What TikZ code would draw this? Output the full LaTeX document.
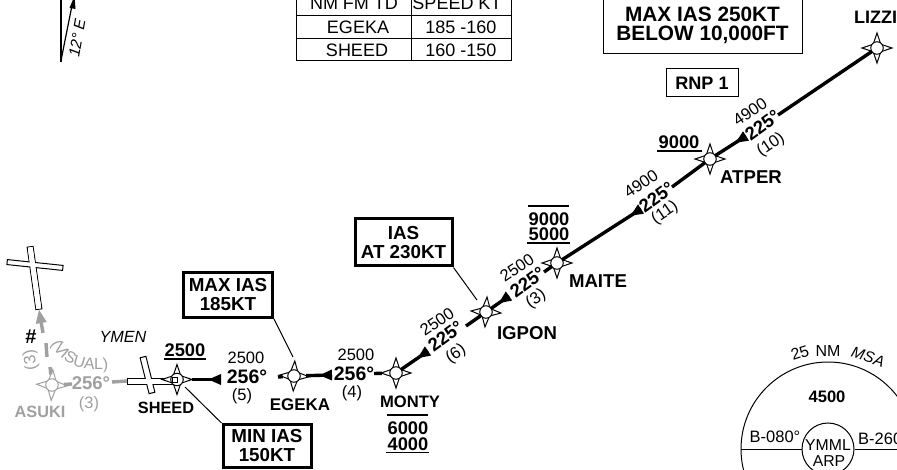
\documentclass[tikz,border=0pt]{standalone}
\usepackage{fontspec}
\setmainfont{Liberation Sans}
\usetikzlibrary{shapes.geometric,arrows.meta,calc,decorations.text,decorations.markings}
\newcommand{\fsz}[1]{\fontsize{#1}{#1}\selectfont}
\definecolor{gr}{HTML}{A0A0A0}
\tikzset{
  wstar/.style={star,star points=4,star point ratio=2.8,draw=#1,fill=white,line width=1pt,inner sep=0pt,outer sep=0pt,minimum size=30pt},
  wstar/.default=black,
  wcirc/.style={circle,draw=#1,fill=white,line width=1pt,inner sep=0pt,minimum size=12.5pt},
  wcirc/.default=black,
  leg/.style={line width=3.4pt,black},
  gleg/.style={line width=3.4pt,gr},
  legtip/.style={postaction={decorate,decoration={markings,mark=at position 13pt with {\arrow{Triangle[length=13pt,width=10pt]}}}}},
  wname/.style={font=\bfseries\fsz{#1},inner sep=0pt},
  alt/.style={font=\bfseries\fsz{18.3},inner sep=0pt},
  lev/.style={font=\fsz{16.5},inner sep=0pt},
  brg/.style={font=\bfseries\fsz{19.5},inner sep=0pt},
  brgr/.style={font=\bfseries\fsz{18.5},inner sep=0pt,rotate=36},
  spd/.style={font=\bfseries\fsz{18.8},align=center,draw,line width=3pt,inner sep=0pt},
  thin box/.style={font=\bfseries\fsz{#1},align=center,draw,line width=1pt,inner sep=0pt},
  cell/.style={font=\fsz{18},inner sep=0pt},
  leader/.style={line width=1pt,black},
  rwy/.style={rectangle,inner sep=0pt,outer sep=0pt,line width=1pt},
  bar/.style={line width=1.6pt,black},
  msa/.style={font=\fsz{16},inner sep=0pt},
}
\begin{document}
\begin{tikzpicture}[x=1pt,y=-1pt]
\useasboundingbox (0,0) rectangle (897,470);
\clip (0,0) rectangle (897,470);
\fill[white] (0,0) rectangle (897,470);

% north arrow
\draw[line width=1.8pt] (60.7,-2) -- (60.7,62);
\draw[line width=1.2pt] (60.7,62) -- (71.5,8);
\fill (74.5,-4) -- (75.5,9) -- (69.5,8) -- cycle;
\node[font=\itshape\fsz{15.5},rotate=80,inner sep=0pt] (magvar) at (77,38) {12° E};

% table
\draw[line width=1pt] (296,-2) -- (296,61) -- (511,61) -- (511,-2)
  (296,16) -- (511,16) (296,38.5) -- (511,38.5) (411,-2) -- (411,61);
\node[cell] (th1) at (354,3.5) {NM FM TD};
\node[cell] (th2) at (457,3.5) {SPEED KT};
\node[cell] (c1) at (358,27) {EGEKA};
\node[cell] (c2) at (461,27) {185 -160};
\node[cell] (c3) at (357,50) {SHEED};
\node[cell] (c4) at (461,50) {160 -150};

% boxes top right
\node[thin box=20.8,minimum width=199pt,minimum height=58pt] (maxbox) at (702.5,25) {MAX IAS 250KT\\[-1.8pt]BELOW 10,000FT};
\node[thin box=18.1,minimum width=72pt,minimum height=28pt] (rnp) at (702,83) {RNP 1};

% MSA
\node[circle,draw,line width=1pt,minimum size=174pt,inner sep=0pt] (msac) at (828,449) {};
\node[circle,draw,line width=1pt,minimum size=52pt,inner sep=0pt,font=\fsz{15.8},align=center,fill=white] (arp) at (828,449) {};
\node[inner sep=0pt,font=\fsz{15.8}] (ymml) at (828,445) {YMML};
\node[inner sep=0pt,font=\fsz{15.8}] (arpt) at (829,461) {ARP};
\draw[line width=1pt] (msac.180) -- (arp.180);
\draw[line width=1pt] (arp.0) -- (msac.0);
\node[msa,rotate=18] (m25) at (800,353) {25};
\node[msa] (mnm) at (828,351) {NM};
\node[msa,font=\itshape\fsz{15.5},rotate=-18] (mmsa) at (868,357) {MSA};
\node[font=\bfseries\fsz{16.6},inner sep=0pt] (m45) at (827,397) {4500};
\node[msa,font=\fsz{16.5}] (b080) at (775,437) {B-080°};
\node[msa,font=\fsz{16.5},anchor=west] (b260) at (858,439) {B-260°};

% runways
\node[rwy,draw,fill=white,minimum width=63pt,minimum height=6pt,rotate=98] (r1) at (34.5,278) {};
\node[rwy,draw,fill=white,minimum width=56pt,minimum height=5pt,rotate=-6] (r1b) at (35,265) {};
\node[rwy,fill=white,minimum width=62pt,minimum height=5pt,rotate=98] (r1c) at (34.5,278) {};
\node[rwy,draw,fill=white,minimum width=49pt,minimum height=6pt,rotate=0] (r2) at (151.5,381) {};
\node[rwy,draw,fill=white,minimum width=37pt,minimum height=6pt,rotate=-76] (r2b) at (147.5,375) {};
\node[rwy,fill=white,minimum width=48pt,minimum height=5pt,rotate=0] (r2c) at (151.5,381) {};

% waypoints
\node[wstar=gr,shape border rotate=-3,minimum size=31pt] (asuki) at (52,385) {};
\node[wcirc=gr] (asukic) at (asuki) {};
\node[wstar] (sheed) at (177,379.5) {};
\node[wcirc] (sheedc) at (sheed) {};
\node[rwy,draw,fill=white,minimum size=5pt] (sq) at (174.5,380) {};
\node[wstar,shape border rotate=-3] (egeka) at (294,376) {};
\node[wcirc] (egekac) at (egeka) {};
\node[wstar] (monty) at (396,373) {};
\node[wcirc] (montyc) at (monty) {};
\node[wstar,shape border rotate=-4] (igpon) at (486,312) {};
\node[wcirc] (igponc) at (igpon) {};
\node[wstar] (maite) at (557,263) {};
\node[wcirc] (maitec) at (maite) {};
\node[wstar] (atper) at (710,159) {};
\node[wcirc] (atperc) at (atper) {};
\node[wstar] (lizzi) at (877,48) {};
\node[wcirc] (lizzic) at (lizzi) {};

% gap ends
\coordinate (a1) at (778,115); \coordinate (a2) at (746,136);
\coordinate (b1) at (672,187); \coordinate (b2) at (641,209);
\coordinate (c1p) at (544,272); \coordinate (c2p) at (509,296);
\coordinate (d1) at (466,326); \coordinate (d2) at (428,351);
\coordinate (e1) at (374,373.5); \coordinate (e2) at (332,375);
\coordinate (f1) at (278,377); \coordinate (f2) at (221,379.5);

% legs
\draw[leg] (lizzi) -- (a1);
\draw[leg,legtip] (a2) -- (atper);
\draw[leg] (atper) -- (b1);
\draw[leg,legtip] (b2) -- (maite);
\draw[leg] (maite) -- (c1p);
\draw[leg,legtip] (c2p) -- (igpon);
\draw[leg] (igpon) -- (d1);
\draw[leg,legtip] (d2) -- (monty);
\draw[leg] (monty) -- (e1);
\draw[leg,legtip] (e2) -- (egeka);
\draw[leg] (egeka) -- (f1);
\draw[leg,legtip] (f2) -- (sheed);

% grey legs
\coordinate (g1) at (50,367); \coordinate (g2) at (47,357); \coordinate (g3) at (46,343); \coordinate (g4) at (43,333);
\coordinate (g5) at (72,384); \coordinate (g6) at (112,382);
\draw[gleg] (asuki) -- (g1);
\draw[gleg] (g2) -- (g3);
\draw[gleg,-{Triangle[length=14pt,width=10pt]}] (g4) -- (r1.west);
\draw[gleg] (asuki) -- (g5);
\draw[gleg] (g6) -- (r2.west);

% leg labels
\node[lev,rotate=34] (t1a) at (750,112) {4900};
\node[brgr] (t1b) at (762.5,125) {225°};
\node[lev,rotate=34] (t1c) at (771,145) {(10)};
\node[lev,rotate=34] (t2a) at (641,184) {4900};
\node[brgr] (t2b) at (656.5,197) {225°};
\node[lev,rotate=34] (t2c) at (665,213) {(11)};
\node[lev,rotate=34] (t3a) at (517,268) {2500};
\node[brgr] (t3b) at (527.5,282) {225°};
\node[lev,rotate=34] (t3c) at (536,299) {(3)};
\node[lev,rotate=34] (t4a) at (437,322) {2500};
\node[brgr] (t4b) at (445.5,336) {225°};
\node[lev,rotate=34] (t4c) at (456,354) {(6)};
\node[lev] (t5a) at (356,355) {2500};
\node[brg] (t5b) at (354,374) {256°};
\node[lev] (t5c) at (352,393) {(4)};
\node[lev] (t6a) at (246,358) {2500};
\node[brg] (t6b) at (247,377) {256°};
\node[lev] (t6c) at (242,396) {(5)};

% grey labels
\node[brg,font=\bfseries\fsz{18.5},text=gr] (t7b) at (91,383) {256°};
\node[lev,text=gr] (t7c) at (89,404) {(3)};
\node[lev,text=gr,rotate=100] (t8c) at (31,360) {(3)};
\node[font=\bfseries\fsz{20},inner sep=0pt] (hash) at (31,337) {\#};
\node[wname=16.3,text=gr] (nasuki) at (40,412) {ASUKI};
\path[decorate,decoration={text along path,text align=center,text={|\fsz{16}\color{gr}|(VISUAL)}}]
  (49,336) .. controls (54,358) and (72,374) .. (116,368);
\node[font=\itshape\fsz{16.2},inner sep=0pt] (ymen) at (123,337) {YMEN};

% waypoint names
\node[wname=16.3] (nsheed) at (166,408) {SHEED};
\node[wname=16.9] (negeka) at (300,405) {EGEKA};
\node[wname=16.6] (nmonty) at (410,402) {MONTY};
\node[wname=18.6] (nigpon) at (527,333) {IGPON};
\node[wname=18.6] (nmaite) at (598,281) {MAITE};
\node[wname=18.6] (natper) at (751,177) {ATPER};
\node[wname=18,anchor=west] (nlizzi) at (854,17.5) {LIZZI};

% altitudes
\node[alt] (al1) at (185,350) {2500};
\draw[bar] (164,359) -- (206,359);
\node[alt] (al2) at (679,142) {9000};
\draw[bar] (657,151) -- (702,151);
\node[alt] (al3) at (549,219) {9000};
\node[alt] (al4) at (549,234) {5000};
\draw[bar] (528,206) -- (569,206);
\draw[bar] (527,243) -- (570,243);
\node[alt] (al5) at (408,428) {6000};
\node[alt] (al6) at (408,444) {4000};
\draw[bar] (387,415) -- (428,415);
\draw[bar] (386,452.5) -- (429,452.5);

% speed boxes
\node[spd,minimum width=89pt,minimum height=45pt] (b185) at (228,295) {MAX IAS\\[0.2pt]185KT};
\node[spd,minimum width=88pt,minimum height=43pt] (b150) at (267,446) {MIN IAS\\[0.2pt]150KT};
\node[spd,minimum width=97pt,minimum height=47pt] (b230) at (403.5,242.5) {IAS\\[0.2pt]AT 230KT};
\coordinate (l1) at (293,357); \coordinate (l2) at (185,387); \coordinate (l3) at (477,300);
\draw[leader] (b185.south east) -- (l1);
\draw[leader] (b150.north west) -- (l2);
\draw[leader] (b230.south east) -- (l3);
\end{tikzpicture}
\end{document}
